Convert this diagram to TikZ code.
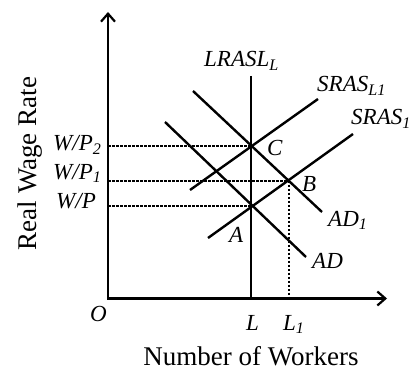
\documentclass[tikz,border=0pt]{standalone}
\usepackage{fontspec}
\setmainfont{Liberation Serif}
\usetikzlibrary{arrows.meta}
\newcommand\lsub[1]{\textsubscript{#1}}
\begin{document}
\begin{tikzpicture}[x=1pt,y=-1pt,
  axis/.style={line width=2.4pt, {Straight Barb[length=8pt,width=14pt,line width=2.2pt]}-{Straight Barb[length=8pt,width=14pt,line width=2.2pt]}},
  curve/.style={line width=2.4pt},
  guide/.style={line width=2pt, dash pattern=on 2.5pt off 1.5pt},
  lab/.style={font=\fontsize{23}{25}\selectfont\itshape, inner sep=0pt, anchor=base west},
  axlab/.style={font=\fontsize{27}{30}\selectfont, inner sep=0pt, anchor=base},
]
\useasboundingbox (0,0) rectangle (411,371);
\fill[white] (0,0) rectangle (411,371);
% coordinates
\coordinate (O) at (108,298.5);
\coordinate (ytop) at (108,12);
\coordinate (xend) at (387,298.5);
\coordinate (Ltop) at (251,76);
\coordinate (Lb) at (251,298.5);
\coordinate (C) at (251,146);
\coordinate (B) at (289,180.5);
\coordinate (A) at (251,205.5);
\coordinate (L1b) at (289,298.5);
\coordinate (wp2) at (108,146);
\coordinate (wp1) at (108,180.5);
\coordinate (wp) at (108,205.5);
\coordinate (ad1a) at (193,91);
\coordinate (ad1b) at (322,212);
\coordinate (ada) at (165,122);
\coordinate (adb) at (306,257);
\coordinate (s1a) at (318,99);
\coordinate (s1b) at (190,190);
\coordinate (s2a) at (353,134);
\coordinate (s2b) at (208,238);
% dashed guides
\draw[guide] (wp2) -- (C);
\draw[guide] (wp1) -- (B);
\draw[guide] (wp) -- (A);
\draw[guide] (B) -- (L1b);
% axes
\draw[axis] (ytop) -- (O) -- (xend);
% curves
\draw[curve] (Ltop) -- (Lb);
\draw[curve] (ad1a) -- (ad1b);
\draw[curve] (ada) -- (adb);
\draw[curve] (s1a) -- (s1b);
\draw[curve] (s2a) -- (s2b);
% labels
\node[lab] (lLRAS) at (204,67) {LRASL\lsub{L}};
\node[lab] (lSRASL1) at (317,92) {SRAS\lsub{L1}};
\node[lab] (lSRAS1) at (351,125) {SRAS\lsub{1}};
\node[lab] (lC) at (267,156) {C};
\node[lab] (lB) at (302,191) {B};
\node[lab] (lA) at (229,242) {A};
\node[lab] (lAD1) at (328,226) {AD\lsub{1}};
\node[lab] (lAD) at (312,268) {AD};
\node[lab] (lWP2) at (53,151) {W/P\lsub{2}};
\node[lab] (lWP1) at (53,179) {W/P\lsub{1}};
\node[lab] (lWP) at (56,208) {W/P};
\node[lab] (lO) at (90,321) {O};
\node[lab] (lL) at (246,330) {L};
\node[lab] (lL1) at (283,330) {L\lsub{1}};
\node[axlab] (xlab) at (251,365) {Number of Workers};
\node[axlab, rotate=90] (ylab) at (36,163.5) {Real Wage Rate};
\end{tikzpicture}
\end{document}
